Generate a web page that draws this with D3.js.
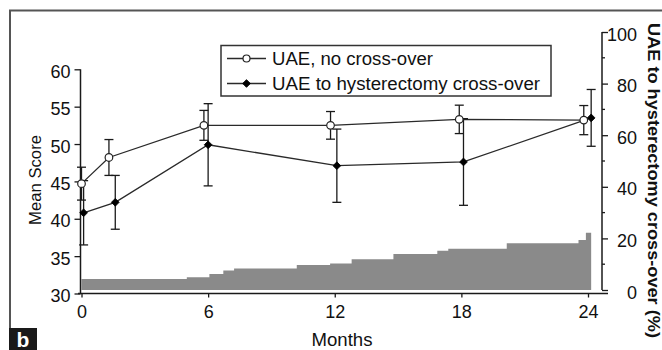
<!DOCTYPE html>
<html>
<head>
<meta charset="utf-8">
<script src="https://cdn.jsdelivr.net/npm/d3@7"></script>
<style>
  html, body { margin: 0; padding: 0; background: #fff; }
  svg { display: block; }
  text { font-family: Arial, "Liberation Sans", Helvetica, sans-serif; fill: #111; }
</style>
</head>
<body>
<svg id="chart" width="662" height="350"></svg>
<script>
// ---- data ----
const seriesNames = ["UAE, no cross-over", "UAE to hysterectomy cross-over"];
const monthsNoCross = [0, 1.3, 5.8, 11.8, 17.9, 23.8];
const meanNoCross   = [44.7, 48.2, 52.5, 52.5, 53.3, 53.2];
const errNoCross    = [2.2, 2.4, 2.0, 1.85, 1.9, 1.95];
const monthsCross   = [0.1, 1.6, 6.0, 12.1, 18.1, 24.15];
const meanCross     = [40.8, 42.2, 49.9, 47.1, 47.6, 53.5];
const errCross      = [4.3, 3.6, 5.5, 4.9, 5.8, 3.8];
const stepMonths    = [0, 4.99, 6.06, 6.72, 7.23, 10.2, 11.78, 12.8, 14.78, 16.86, 17.38, 20.15, 23.55, 23.9, 24.15];
const stepPct       = [4.3, 4.9, 6.2, 7.6, 8.3, 9.7, 10.3, 11.9, 14.0, 15.2, 16.0, 18.1, 19.4, 22.2, 22.2];
const xTicks = [0, 6, 12, 18, 24];
const leftTicks = [30, 35, 40, 45, 50, 55, 60];
const rightTicks = [0, 20, 40, 60, 80, 100];
const rightMinorTicks = [10, 30, 50, 70, 90];
const xTitle = "Months";
const leftTitle = "Mean Score";
const rightTitle = "UAE to hysterectomy cross-over (%)";
const panelLabel = "b";

// ---- layout ----
const svg = d3.select("#chart");
const x = d3.scaleLinear().domain([0, 24]).range([81.5, 588]);
const yL = d3.scaleLinear().domain([30, 60]).range([293.5, 69.3]);
const yR = d3.scaleLinear().domain([0, 100]).range([290, 32]);
const axisX0 = 78, axisX1 = 608, rightAxisX = 602;
const ink = "#1a1a1a";

// frame
svg.append("line").attr("x1", 9).attr("x2", 662).attr("y1", 10.5).attr("y2", 10.5)
  .attr("stroke", "#555").attr("stroke-width", 2);
svg.append("line").attr("x1", 10).attr("x2", 10).attr("y1", 10).attr("y2", 350)
  .attr("stroke", "#555").attr("stroke-width", 2);

// gray cumulative step area
const stepData = stepMonths.map((m, i) => ({ m, p: stepPct[i] }));
svg.append("path").datum(stepData)
  .attr("fill", "#8a8a8a")
  .attr("d", d3.area().curve(d3.curveStepAfter)
    .x(d => x(d.m)).y0(yR(0)).y1(d => yR(d.p)));

// left axis
const gL = svg.append("g").attr("transform", `translate(${x(0) - 1},0)`)
  .call(d3.axisLeft(yL).tickValues(leftTicks).tickSize(6).tickPadding(4).tickSizeOuter(0));
gL.select(".domain").remove();
gL.append("line").attr("x1", 0).attr("x2", 0).attr("y1", yL(60)).attr("y2", yL(30))
  .attr("stroke", ink).attr("stroke-width", 1.5);
gL.selectAll(".tick line").attr("stroke", ink).attr("stroke-width", 1.3);
gL.selectAll(".tick text").attr("font-size", 18).attr("dy", "0.45em").attr("fill", "#111");

// bottom axis
const gB = svg.append("g").attr("transform", `translate(0,${yL(30)})`)
  .call(d3.axisBottom(x).tickValues(xTicks).tickSize(4).tickPadding(8).tickSizeOuter(0));
gB.select(".domain").remove();
gB.append("line").attr("x1", axisX0).attr("x2", axisX1).attr("y1", 0).attr("y2", 0)
  .attr("stroke", ink).attr("stroke-width", 1.5);
gB.selectAll(".tick line").attr("stroke", ink).attr("stroke-width", 1.3);
gB.selectAll(".tick text").attr("font-size", 18).attr("fill", "#111");

// right axis
const gR = svg.append("g").attr("transform", `translate(${rightAxisX},0)`)
  .call(d3.axisRight(yR).tickValues(rightTicks).tickSize(6).tickPadding(4).tickSizeOuter(0));
gR.select(".domain").remove();
gR.append("line").attr("x1", 0).attr("x2", 0).attr("y1", yR(100)).attr("y2", yR(0))
  .attr("stroke", ink).attr("stroke-width", 1.5);
gR.selectAll(".tick line").attr("stroke", ink).attr("stroke-width", 1.3);
gR.selectAll(".tick text").attr("font-size", 18).attr("text-anchor", "end")
  .attr("x", 35).attr("dy", "0.45em").attr("fill", "#111");
gR.selectAll(".minor").data(rightMinorTicks).enter().append("line")
  .attr("class", "minor").attr("x1", 0).attr("x2", 3)
  .attr("y1", d => yR(d)).attr("y2", d => yR(d)).attr("stroke", ink).attr("stroke-width", 1.3);

// axis titles
svg.append("text").attr("x", 342).attr("y", 346).attr("text-anchor", "middle")
  .attr("font-size", 17.5).attr("textLength", 61).attr("lengthAdjust", "spacingAndGlyphs").text(xTitle);
svg.append("text").attr("transform", "translate(41,180) rotate(-90)").attr("text-anchor", "middle")
  .attr("font-size", 17).attr("textLength", 90).attr("lengthAdjust", "spacingAndGlyphs").text(leftTitle);
svg.append("text").attr("transform", "translate(648,180.5) rotate(90)").attr("text-anchor", "middle")
  .attr("font-size", 17).attr("font-weight", "bold").attr("textLength", 315)
  .attr("lengthAdjust", "spacingAndGlyphs").text(rightTitle);

// series
const series = [
  { name: seriesNames[0], months: monthsNoCross, mean: meanNoCross, err: errNoCross, filled: false },
  { name: seriesNames[1], months: monthsCross, mean: meanCross, err: errCross, filled: true }
];
const lineGen = d3.line().x(d => x(d.m)).y(d => yL(d.v));
const diamond = d3.symbol().type(d3.symbolSquare).size(30);

// lines first
series.forEach(s => {
  const pts = s.months.map((m, i) => ({ m, v: s.mean[i], e: s.err[i] }));
  s.pts = pts;
  svg.append("path").datum(pts).attr("fill", "none").attr("stroke", "#2a2a2a")
    .attr("stroke-width", 1.3).attr("d", lineGen);
});
// error bars
series.forEach(s => {
  const g = svg.append("g").attr("stroke", ink).attr("stroke-width", 1.3);
  s.pts.forEach(d => {
    const cx = x(d.m), top = yL(d.v + d.e), bot = yL(d.v - d.e);
    g.append("line").attr("x1", cx).attr("x2", cx).attr("y1", top).attr("y2", bot);
    g.append("line").attr("x1", cx - 4.5).attr("x2", cx + 4.5).attr("y1", top).attr("y2", top);
    g.append("line").attr("x1", cx - 4.5).attr("x2", cx + 4.5).attr("y1", bot).attr("y2", bot);
  });
});
// markers
series.forEach(s => {
  s.pts.forEach(d => {
    if (s.filled) {
      svg.append("path").attr("d", diamond).attr("transform", `translate(${x(d.m)},${yL(d.v)}) rotate(45)`)
        .attr("fill", "#000").attr("stroke", "#000").attr("stroke-width", 0.8);
    } else {
      svg.append("circle").attr("cx", x(d.m)).attr("cy", yL(d.v)).attr("r", 3.8)
        .attr("fill", "#fff").attr("stroke", "#222").attr("stroke-width", 1.2);
    }
  });
});

// legend
const lg = svg.append("g");
lg.append("rect").attr("x", 221).attr("y", 45.5).attr("width", 330).attr("height", 50.5)
  .attr("fill", "#fff").attr("stroke", "#333").attr("stroke-width", 1.5);
const legendLens = [161, 268];
series.forEach((s, i) => {
  const ly = 58.5 + i * 25;
  lg.append("line").attr("x1", 227).attr("x2", 266).attr("y1", ly).attr("y2", ly)
    .attr("stroke", "#2a2a2a").attr("stroke-width", 1.3);
  if (s.filled) {
    lg.append("path").attr("d", diamond).attr("transform", `translate(246.5,${ly}) rotate(45)`)
      .attr("fill", "#000").attr("stroke", "#000").attr("stroke-width", 0.8);
  } else {
    lg.append("circle").attr("cx", 246.5).attr("cy", ly).attr("r", 3.5)
      .attr("fill", "#fff").attr("stroke", "#222").attr("stroke-width", 1.2);
  }
  lg.append("text").attr("x", 272).attr("y", ly + 6.5).attr("font-size", 17.5)
    .attr("textLength", legendLens[i]).attr("lengthAdjust", "spacingAndGlyphs").text(s.name);
});

// panel label
svg.append("rect").attr("x", 9).attr("y", 328).attr("width", 28).attr("height", 22).attr("fill", "#1a1a1a");
svg.append("text").attr("x", 23).attr("y", 347).attr("text-anchor", "middle")
  .attr("font-size", 21).attr("font-weight", "bold").style("fill", "#fff").text(panelLabel);
</script>
</body>
</html>
